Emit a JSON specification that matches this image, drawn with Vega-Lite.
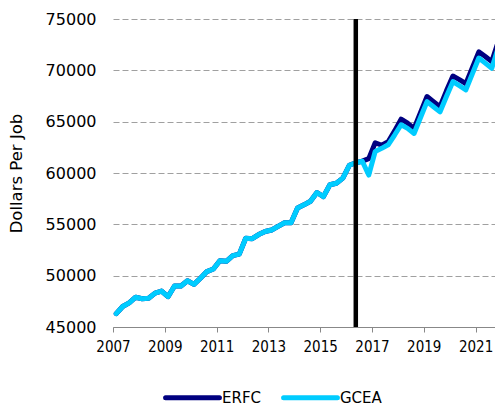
{
  "$schema": "https://vega.github.io/schema/vega-lite/v6.json",
  "autosize": "none",
  "width": 382,
  "height": 308,
  "padding": {"left": 113, "top": 19, "right": 0, "bottom": 81},
  "background": "white",
  "config": {
    "view": {"stroke": null},
    "font": "DejaVu Sans",
    "axis": {"labelFont": "DejaVu Sans", "titleFont": "DejaVu Sans", "labelColor": "#000000", "titleColor": "#000000", "titleFontWeight": "normal"},
    "legend": {"labelFont": "DejaVu Sans"}
  },
  "datasets": {
    "series": [
      {"t": 2007.125, "ERFC": 46300, "GCEA": 46300},
      {"t": 2007.375, "ERFC": 47000, "GCEA": 47000},
      {"t": 2007.625, "ERFC": 47350, "GCEA": 47350},
      {"t": 2007.875, "ERFC": 47900, "GCEA": 47900},
      {"t": 2008.125, "ERFC": 47750, "GCEA": 47750},
      {"t": 2008.375, "ERFC": 47800, "GCEA": 47800},
      {"t": 2008.625, "ERFC": 48300, "GCEA": 48300},
      {"t": 2008.875, "ERFC": 48500, "GCEA": 48500},
      {"t": 2009.125, "ERFC": 47950, "GCEA": 47950},
      {"t": 2009.375, "ERFC": 49000, "GCEA": 49000},
      {"t": 2009.625, "ERFC": 49000, "GCEA": 49000},
      {"t": 2009.875, "ERFC": 49500, "GCEA": 49500},
      {"t": 2010.125, "ERFC": 49150, "GCEA": 49150},
      {"t": 2010.375, "ERFC": 49750, "GCEA": 49750},
      {"t": 2010.625, "ERFC": 50400, "GCEA": 50400},
      {"t": 2010.875, "ERFC": 50650, "GCEA": 50650},
      {"t": 2011.125, "ERFC": 51450, "GCEA": 51450},
      {"t": 2011.375, "ERFC": 51400, "GCEA": 51400},
      {"t": 2011.625, "ERFC": 51950, "GCEA": 51950},
      {"t": 2011.875, "ERFC": 52100, "GCEA": 52100},
      {"t": 2012.125, "ERFC": 53650, "GCEA": 53650},
      {"t": 2012.375, "ERFC": 53600, "GCEA": 53600},
      {"t": 2012.625, "ERFC": 54000, "GCEA": 54000},
      {"t": 2012.875, "ERFC": 54300, "GCEA": 54300},
      {"t": 2013.125, "ERFC": 54450, "GCEA": 54450},
      {"t": 2013.375, "ERFC": 54800, "GCEA": 54800},
      {"t": 2013.625, "ERFC": 55150, "GCEA": 55150},
      {"t": 2013.875, "ERFC": 55150, "GCEA": 55150},
      {"t": 2014.125, "ERFC": 56600, "GCEA": 56600},
      {"t": 2014.375, "ERFC": 56900, "GCEA": 56900},
      {"t": 2014.625, "ERFC": 57250, "GCEA": 57250},
      {"t": 2014.875, "ERFC": 58100, "GCEA": 58100},
      {"t": 2015.125, "ERFC": 57700, "GCEA": 57700},
      {"t": 2015.375, "ERFC": 58850, "GCEA": 58850},
      {"t": 2015.625, "ERFC": 59000, "GCEA": 59000},
      {"t": 2015.875, "ERFC": 59500, "GCEA": 59500},
      {"t": 2016.125, "ERFC": 60750, "GCEA": 60750},
      {"t": 2016.375, "ERFC": 61000, "GCEA": 61000},
      {"t": 2016.625, "ERFC": 61150, "GCEA": 61150},
      {"t": 2016.875, "ERFC": 61400, "GCEA": 59800},
      {"t": 2017.125, "ERFC": 62950, "GCEA": 62100},
      {"t": 2017.375, "ERFC": 62700, "GCEA": 62400},
      {"t": 2017.625, "ERFC": 63050, "GCEA": 62750},
      {"t": 2017.875, "ERFC": 64100, "GCEA": 63700},
      {"t": 2018.125, "ERFC": 65250, "GCEA": 64700},
      {"t": 2018.375, "ERFC": 64850, "GCEA": 64350},
      {"t": 2018.625, "ERFC": 64350, "GCEA": 63850},
      {"t": 2018.875, "ERFC": 65900, "GCEA": 65400},
      {"t": 2019.125, "ERFC": 67450, "GCEA": 66950},
      {"t": 2019.375, "ERFC": 66950, "GCEA": 66450},
      {"t": 2019.625, "ERFC": 66450, "GCEA": 65950},
      {"t": 2019.875, "ERFC": 68000, "GCEA": 67450},
      {"t": 2020.125, "ERFC": 69450, "GCEA": 68900},
      {"t": 2020.375, "ERFC": 69100, "GCEA": 68500},
      {"t": 2020.625, "ERFC": 68700, "GCEA": 68100},
      {"t": 2020.875, "ERFC": 70250, "GCEA": 69650},
      {"t": 2021.125, "ERFC": 71800, "GCEA": 71200},
      {"t": 2021.375, "ERFC": 71350, "GCEA": 70700},
      {"t": 2021.625, "ERFC": 70850, "GCEA": 70200},
      {"t": 2021.875, "ERFC": 72800, "GCEA": 72200}
    ],
    "marker": [{"t": 2016.375}]
  },
  "layer": [
    {
      "data": {"name": "series"},
      "transform": [{"fold": ["ERFC", "GCEA"], "as": ["series", "value"]}, {"filter": "datum.series === 'ERFC'"}],
      "mark": {"type": "line", "strokeWidth": 5, "strokeJoin": "round", "strokeCap": "round", "clip": true},
      "encoding": {
        "x": {
          "field": "t", "type": "quantitative",
          "scale": {"domain": [2007, 2021.75], "nice": false, "zero": false},
          "axis": {
            "title": null,
            "values": [2007, 2008, 2009, 2010, 2011, 2012, 2013, 2014, 2015, 2016, 2017, 2018, 2019, 2020, 2021],
            "format": "d",
            "labelExpr": "datum.value % 2 == 1 ? datum.label : ''",
            "labelFont": "'DejaVu Sans Condensed', 'DejaVu Sans'",
            "grid": false,
            "domainColor": "#888888",
            "tickColor": "#888888",
            "tickSize": 5,
            "labelFontSize": 15,
            "labelPadding": 7,
            "labelFlush": false,
            "labelOverlap": false
          }
        },
        "y": {
          "field": "value", "type": "quantitative",
          "scale": {"domain": [45000, 75000], "nice": false, "zero": false},
          "axis": {
            "title": "Dollars Per Job",
            "titleFontSize": 16.5,
            "titlePadding": 21,
            "values": [45000, 50000, 55000, 60000, 65000, 70000, 75000],
            "format": "d",
            "domain": false,
            "ticks": false,
            "grid": true,
            "gridColor": "#a0a0a0",
            "gridDash": [6, 3],
            "gridWidth": 1,
            "labelFontSize": 16,
            "labelPadding": 17
          }
        },
        "color": {
          "field": "series", "type": "nominal",
          "scale": {"domain": ["ERFC", "GCEA"], "range": ["#000080", "#00CCFF"]},
          "legend": {
            "title": null,
            "orient": "none",
            "direction": "horizontal",
            "legendX": 50,
            "legendY": 349,
            "symbolType": "stroke",
            "symbolSize": 2900,
            "symbolStrokeWidth": 5,
            "labelFontSize": 15,
            "labelOffset": 0,
            "columnPadding": 11,
            "encode": {"symbols": {"update": {"strokeCap": {"value": "round"}}}}
          }
        }
      }
    },
    {
      "data": {"name": "series"},
      "transform": [{"fold": ["ERFC", "GCEA"], "as": ["series", "value"]}, {"filter": "datum.series === 'GCEA'"}],
      "mark": {"type": "line", "strokeWidth": 5, "strokeJoin": "round", "strokeCap": "round", "clip": true},
      "encoding": {
        "x": {"field": "t", "type": "quantitative"},
        "y": {"field": "value", "type": "quantitative"},
        "color": {"field": "series", "type": "nominal"}
      }
    },
    {
      "data": {"name": "marker"},
      "mark": {"type": "rule", "color": "#000000", "strokeWidth": 4.5},
      "encoding": {"x": {"field": "t", "type": "quantitative"}}
    }
  ]
}
